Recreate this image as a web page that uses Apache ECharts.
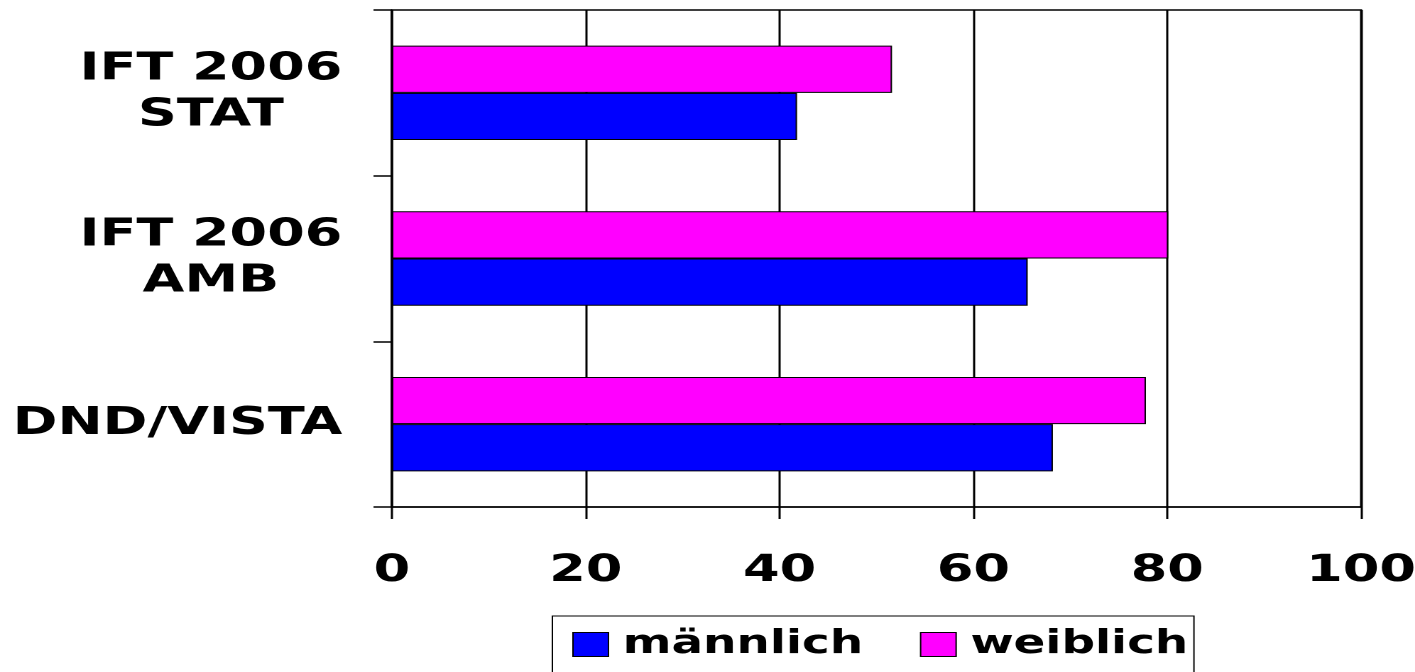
<!DOCTYPE html>
<html>
<head>
<meta charset="utf-8">
<script src="https://cdn.jsdelivr.net/npm/echarts@6/dist/echarts.min.js"></script>
<style>
html, body { margin: 0; padding: 0; background: #fff; overflow: hidden; }
#chart { width: 997px; height: 672px; transform: scaleX(1.42); transform-origin: 0 0; }
</style>
</head>
<body>
<div id="chart"></div>
<script>
// Data (categories listed bottom to top)
var categories = ['DND/VISTA', 'IFT 2006\nAMB', 'IFT 2006\nSTAT'];
var seriesNames = ['männlich', 'weiblich'];
var maennlich = [68.2, 65.6, 41.8];
var weiblich = [77.8, 80.1, 51.6];
var xTicks = [0, 20, 40, 60, 80, 100];

var FONT = 'DejaVu Sans';
var chart = echarts.init(document.getElementById('chart'), null, { devicePixelRatio: 2 });

var option = {
  animation: false,
  backgroundColor: '#ffffff',
  grid: {
    left: 276, right: 38.5, top: 10, bottom: 165,
    outerBoundsMode: 'none', containLabel: false,
    show: true, borderColor: '#000', borderWidth: 1.5, backgroundColor: 'transparent'
  },
  legend: {
    data: seriesNames,
    left: 389, top: 616,
    orient: 'horizontal',
    icon: 'rect',
    itemWidth: 25, itemHeight: 24,
    itemGap: 40,
    padding: [12, 4, 40, 14],
    borderColor: '#000', borderWidth: 1,
    itemStyle: { borderColor: '#000', borderWidth: 1 },
    textStyle: { fontFamily: FONT, fontWeight: 'bold', fontSize: 33, color: '#000', padding: [0, 0, 0, 5] }
  },
  xAxis: {
    type: 'value', min: xTicks[0], max: xTicks[xTicks.length - 1], interval: 20,
    axisLine: { show: true, lineStyle: { color: '#000', width: 1.5 } },
    axisTick: { show: true, length: 12, lineStyle: { color: '#000', width: 1.5 } },
    splitLine: { show: true, lineStyle: { color: '#000', width: 1.5 } },
    axisLabel: { margin: 46, fontFamily: FONT, fontWeight: 'bold', fontSize: 37, color: '#000' }
  },
  yAxis: {
    type: 'category', data: categories,
    axisLine: { show: true, lineStyle: { color: '#000', width: 1.5 } },
    axisTick: { show: true, length: 13, lineStyle: { color: '#000', width: 1.5 } },
    splitLine: { show: false },
    axisLabel: {
      margin: 35, fontFamily: FONT, fontWeight: 'bold', fontSize: 38, color: '#000', lineHeight: 46,
      formatter: function (v) {
        if (v.indexOf('\n') >= 0) {
          return v.split('\n').map(function (l) { return '{c|' + l + '}'; }).join('\n');
        }
        return v;
      },
      rich: {
        c: { width: 185, align: 'center', fontFamily: FONT, fontWeight: 'bold', fontSize: 38, color: '#000', lineHeight: 46 }
      }
    }
  },
  series: [
    {
      name: seriesNames[1], type: 'bar', data: weiblich,
      barGap: '0%', barCategoryGap: '43%',
      itemStyle: { color: '#ff00ff', borderColor: '#000', borderWidth: 1 }
    },
    {
      name: seriesNames[0], type: 'bar', data: maennlich,
      barGap: '0%', barCategoryGap: '43%',
      itemStyle: { color: '#0000ff', borderColor: '#000', borderWidth: 1 }
    }
  ]
};
chart.setOption(option);
</script>
</body>
</html>
